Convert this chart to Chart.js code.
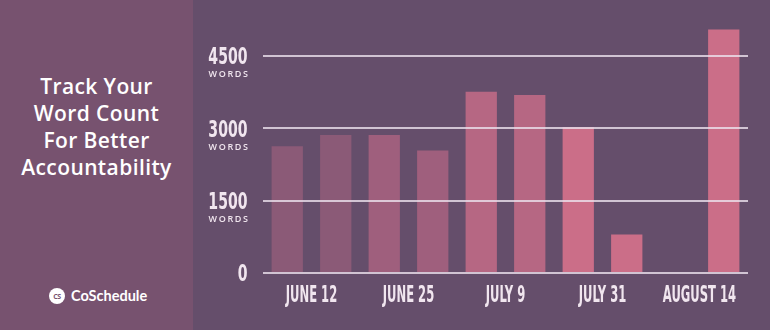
<!DOCTYPE html>
<html>
<head>
<meta charset="utf-8">
<script src="https://cdn.jsdelivr.net/npm/chart.js@4"></script>
<style>
  html, body { margin:0; padding:0; }
  body { width:770px; height:330px; position:relative; overflow:hidden; background:#654e6b; }
  #left { position:absolute; left:0; top:0; width:193px; height:330px; background:#77526f; }
  #title { position:absolute; left:0; width:193px; top:73px; text-align:center; color:#ffffff;
           font-family:"Open Sans", sans-serif; font-weight:600; font-size:21px; letter-spacing:0.4px; line-height:27px; }
  #logo { position:absolute; left:49px; top:288px; height:16px; display:flex; align-items:center; }
  #mark { width:16px; height:16px; border-radius:50%; background:#fff; color:#77526f;
          font:bold 7px "Open Sans", sans-serif; display:flex; align-items:center; justify-content:center; letter-spacing:-0.5px; }
  #brand { margin-left:6px; color:#fff; font-family:"Lato", sans-serif; font-weight:700; font-size:14.5px; line-height:16px; }
  #wrap { position:absolute; left:193px; top:0; width:577px; height:330px; }
</style>
</head>
<body>
<div id="left">
  <div id="title">Track Your<br>Word Count<br>For Better<br>Accountability</div>
  <div id="logo"><div id="mark">CS</div><div id="brand">CoSchedule</div></div>
</div>
<div id="wrap"><canvas id="c" width="577" height="330"></canvas></div>
<script>
// ---- data ----
const groupLabels = ['JUNE 12', 'JUNE 25', 'JULY 9', 'JULY 31', 'AUGUST 14'];
const barCategories = ['JUNE 12 a', 'JUNE 12 b', 'JUNE 25 a', 'JUNE 25 b', 'JULY 9 a', 'JULY 9 b', 'JULY 31 a', 'JULY 31 b', 'AUGUST 14 a', 'AUGUST 14 b'];
const wordCounts = [2630, 2860, 2860, 2540, 3760, 3690, 3020, 800, null, 5050];
const barColors = ['#8b5a77', '#8b5a77', '#9f5f7d', '#9f5f7d', '#b66783', '#b66783', '#cb6e88', '#cb6e88', '#cb6e88', '#cb6e88'];
const yTickValues = [0, 1500, 3000, 4500];
const yUnit = 'WORDS';

const textColor = '#f1e6ef';
const condensedFont = 'bold 23px "DejaVu Sans Condensed", "Liberation Sans", sans-serif';
const axisText = {
  id: 'axisText',
  afterDraw(chart) {
    const ctx = chart.ctx, x = chart.scales.x, y = chart.scales.y;
    ctx.save();
    ctx.fillStyle = textColor;
    // y labels
    yTickValues.forEach(v => {
      const py = y.getPixelForValue(v);
      ctx.save();
      ctx.translate(54.5, py + 8.3);
      ctx.scale(0.68, 1);
      ctx.font = condensedFont;
      ctx.textAlign = 'right';
      ctx.textBaseline = 'alphabetic';
      ctx.fillText(String(v), 0, 0);
      ctx.restore();
      if (v !== 0) {
        ctx.save();
        ctx.font = '600 9px "Open Sans", sans-serif';
        ctx.letterSpacing = '1.6px';
        ctx.textAlign = 'right';
        ctx.textBaseline = 'alphabetic';
        ctx.fillText(yUnit, 56.5, py + 21.5);
        ctx.restore();
      }
    });
    // x group labels
    groupLabels.forEach((lab, i) => {
      const px = (x.getPixelForValue(2 * i) + x.getPixelForValue(2 * i + 1)) / 2;
      ctx.save();
      ctx.translate(px, 302);
      ctx.scale(0.56, 1);
      ctx.font = condensedFont;
      ctx.textAlign = 'center';
      ctx.textBaseline = 'alphabetic';
      ctx.fillText(lab, 0, 0);
      ctx.restore();
    });
    ctx.restore();
  }
};

new Chart(document.getElementById('c'), {
  type: 'bar',
  data: {
    labels: barCategories,
    datasets: [{
      data: wordCounts,
      backgroundColor: barColors,
      borderWidth: 0,
      barPercentage: 1,
      categoryPercentage: 0.645
    }]
  },
  options: {
    responsive: false,
    animation: false,
    devicePixelRatio: 1,
    layout: { padding: { top: 27, right: 22, bottom: 57, left: 0 } },
    plugins: { legend: { display: false }, tooltip: { enabled: false } },
    scales: {
      x: { display: false },
      y: {
        min: 0, max: 5100,
        afterBuildTicks: s => { s.ticks = yTickValues.map(v => ({ value: v })); },
        afterFit: s => { s.width = 70; },
        ticks: { display: false },
        border: { display: false },
        grid: { color: 'rgba(236,226,238,0.8)', lineWidth: 2, drawTicks: false, z: 1 }
      }
    }
  },
  plugins: [axisText]
});
</script>
</body>
</html>
